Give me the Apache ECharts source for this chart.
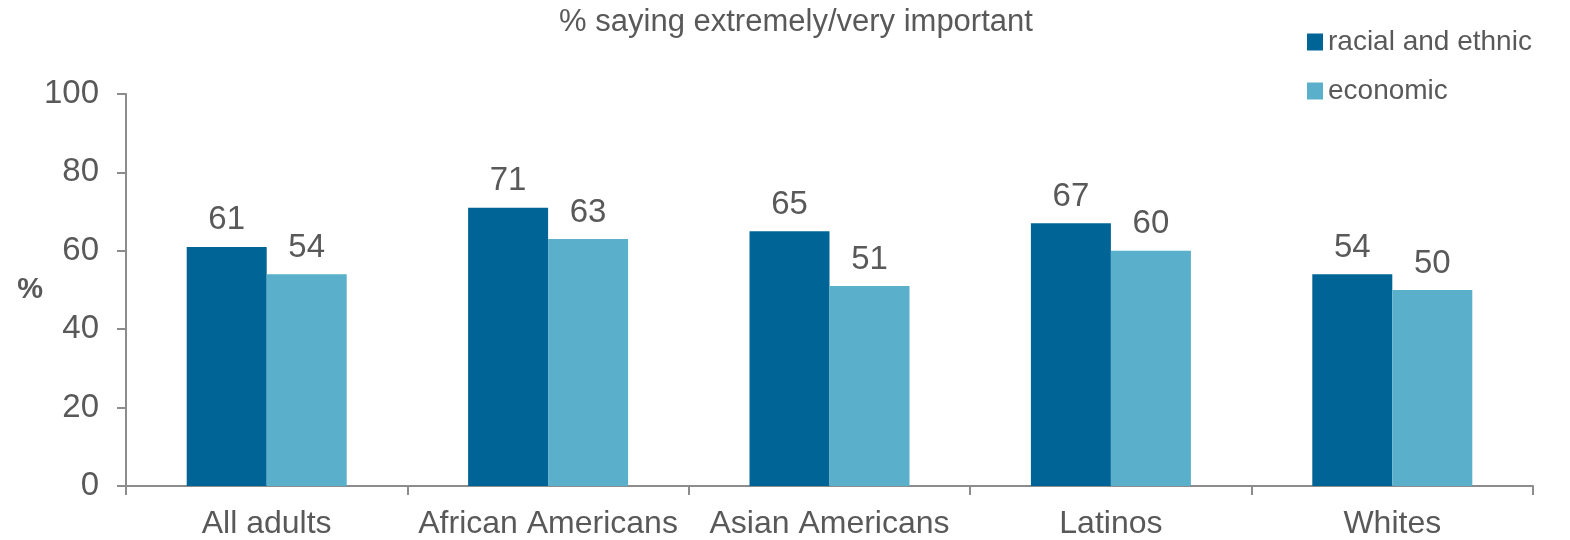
<!DOCTYPE html>
<html><head><meta charset="utf-8">
<script src="https://cdn.jsdelivr.net/npm/echarts@6/dist/echarts.min.js"></script>
<style>html,body{margin:0;padding:0;background:#fff}#c{width:1570px;height:540px}</style>
</head><body><div id="c"></div>
<script>
const categories = ['All adults', 'African Americans', 'Asian Americans', 'Latinos', 'Whites'];
const racialEthnic = [61, 71, 65, 67, 54];
const economic = [54, 63, 51, 60, 50];
const yTicks = [0, 20, 40, 60, 80, 100];

const font = 'Liberation Sans, Arial, sans-serif';
const txt = '#595959';
const chart = echarts.init(document.getElementById('c'));
const lbl = {show: true, position: 'top', distance: 10, color: txt, fontSize: 33, fontFamily: font};
chart.setOption({
  animation: false,
  title: {text: '% saying extremely/very important', left: 791, textAlign: 'center', top: 2,
    textStyle: {fontSize: 31, fontWeight: 'normal', color: txt, fontFamily: font}},
  legend: {orient: 'vertical', left: 1302, top: 23, itemWidth: 16, itemHeight: 17, itemGap: 21, icon: 'rect',
    textStyle: {fontSize: 28, color: txt, fontFamily: font},
    data: ['racial and ethnic', 'economic']},
  grid: {left: 126, right: 37, top: 94, bottom: 53, containLabel: false},
  xAxis: {type: 'category', data: categories,
    axisLine: {lineStyle: {color: '#8c8c8c', width: 2}},
    axisTick: {show: true, length: 9, lineStyle: {color: '#8c8c8c', width: 2}},
    axisLabel: {color: txt, fontSize: 32, fontFamily: font, margin: 22, interval: 0}},
  yAxis: {type: 'value', min: yTicks[0], max: yTicks[yTicks.length - 1], interval: 20,
    name: '%', nameLocation: 'middle', nameRotate: 0, nameGap: 83, nameMoveOverlap: false,
    nameTextStyle: {fontSize: 29, fontWeight: 'bold', color: txt, fontFamily: font},
    axisLine: {show: true, lineStyle: {color: '#8c8c8c', width: 2}},
    axisTick: {show: true, length: 9, lineStyle: {color: '#8c8c8c', width: 2}},
    splitLine: {show: false},
    axisLabel: {color: txt, fontSize: 33, fontFamily: font, margin: 27}},
  series: [
    {name: 'racial and ethnic', type: 'bar', data: racialEthnic, barWidth: 80, barGap: '0%',
      itemStyle: {color: '#006496'}, label: lbl},
    {name: 'economic', type: 'bar', data: economic, barWidth: 80,
      itemStyle: {color: '#5aafca'}, label: lbl}
  ]
});
</script></body></html>
